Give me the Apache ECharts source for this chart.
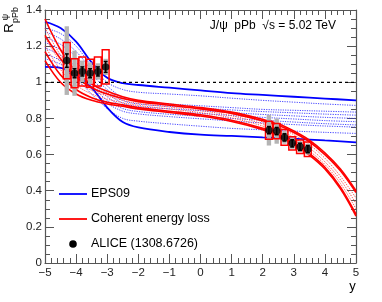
<!DOCTYPE html>
<html><head><meta charset="utf-8">
<script src="https://cdn.jsdelivr.net/npm/echarts@6/dist/echarts.min.js"></script>
<style>html,body{margin:0;padding:0;background:#fff}#c{width:382px;height:302px}</style>
</head><body><div id="c"></div>
<script>
// ---------- data ----------
const BLUE_X = [-5,-4.5,-4,-3.5,-3,-2.5,-2,-1,0,1,2,3,4,5];
const eps09Upper = [1.335,1.30,1.225,1.11,1.025,0.995,0.985,0.97,0.955,0.94,0.93,0.92,0.91,0.90];
const eps09Lower = [1.085,1.08,1.04,0.97,0.86,0.78,0.75,0.725,0.71,0.703,0.695,0.688,0.678,0.668];
const eps09Set1 = [1.30,1.27,1.20,1.09,1.00,0.96,0.945,0.935,0.925,0.912,0.90,0.89,0.88,0.872];
const eps09Set2 = [1.28,1.24,1.17,1.07,0.98,0.915,0.895,0.88,0.87,0.86,0.85,0.845,0.84,0.835];
const eps09Set3 = [1.25,1.21,1.14,1.045,0.96,0.90,0.88,0.867,0.857,0.847,0.838,0.831,0.824,0.818];
const eps09Set4 = [1.22,1.18,1.11,1.02,0.94,0.885,0.866,0.853,0.843,0.832,0.822,0.814,0.806,0.80];
const eps09Set5 = [1.19,1.15,1.085,1.00,0.92,0.87,0.852,0.838,0.828,0.816,0.806,0.797,0.788,0.782];
const eps09Set6 = [1.16,1.12,1.06,0.98,0.90,0.855,0.838,0.823,0.812,0.80,0.79,0.78,0.771,0.764];
const eps09Set7 = [1.13,1.10,1.035,0.96,0.885,0.84,0.825,0.81,0.798,0.786,0.775,0.766,0.758,0.752];
const eps09Set8 = [1.10,1.08,1.02,0.935,0.855,0.80,0.785,0.77,0.757,0.745,0.737,0.73,0.723,0.717];

const RED_X = [-5,-4.5,-4,-3.5,-3,-2.5,-2,-1,0,1,2,2.5,3,3.5,4,4.5,5];
const elossA = [1.35,1.18,1.06,0.99,0.95,0.92,0.90,0.88,0.86,0.835,0.795,0.77,0.73,0.68,0.61,0.52,0.40];
const elossB = [1.26,1.13,1.03,0.97,0.935,0.91,0.893,0.873,0.853,0.828,0.787,0.762,0.722,0.671,0.60,0.51,0.39];
const elossC = [1.17,1.04,0.96,0.915,0.89,0.875,0.86,0.84,0.82,0.79,0.745,0.71,0.665,0.605,0.53,0.42,0.27];
const elossD = [1.12,1.00,0.935,0.90,0.88,0.867,0.853,0.833,0.813,0.783,0.738,0.703,0.657,0.597,0.52,0.41,0.26];
const elossDot1 = [1.30,1.15,1.04,0.975,0.94,0.912,0.893,0.873,0.853,0.826,0.782,0.752,0.71,0.655,0.58,0.48,0.36];
const elossDot2 = [1.25,1.11,1.01,0.955,0.925,0.90,0.883,0.863,0.843,0.815,0.77,0.738,0.694,0.637,0.56,0.46,0.33];
const elossDot3 = [1.20,1.07,0.985,0.935,0.907,0.887,0.872,0.852,0.832,0.803,0.758,0.724,0.68,0.62,0.545,0.44,0.30];

const aliceY_rap = [-4.30,-4.05,-3.80,-3.55,-3.30,-3.05, 2.20,2.45,2.70,2.95,3.20,3.45];
const aliceR     = [1.12,1.05,1.06,1.05,1.06,1.085, 0.735,0.73,0.695,0.662,0.643,0.63];
const aliceStat  = [0.037,0.025,0.025,0.025,0.025,0.03, 0.02,0.02,0.02,0.02,0.02,0.02];
const aliceUncorr= [0.10,0.08,0.08,0.077,0.08,0.095, 0.05,0.042,0.044,0.037,0.037,0.04];
const aliceCorr  = [0.19,0.125,0.06,0.06,0.045,0.045, 0.085,0.07,0.035,0.03,0.03,0.03];

const refLineX = [-5, 5];
const refLineY = [1, 1];

const legendLabels = ['EPS09','Coherent energy loss','ALICE (1308.6726)'];
const titleText = 'J/\u03c8  pPb  \u221as = 5.02 TeV';

// ---------- build ----------
const FONT = '"Liberation Sans", Arial, Helvetica, sans-serif';
const pairs = (xs, ys) => xs.map((x, i) => [x, ys[i]]);
function lineSeries(xs, ys, color, width, type, z) {
  return { type:'line', data:pairs(xs, ys), smooth:0.35, symbol:'none', silent:true,
    lineStyle:{color, width, type}, z };
}
const blueDotted = [eps09Set1,eps09Set2,eps09Set3,eps09Set4,eps09Set5,eps09Set6,eps09Set7,eps09Set8];
const redSolid = [elossA,elossB,elossC,elossD];
const redDotted = [elossDot1,elossDot2,elossDot3];
const series = [];
blueDotted.forEach(s => series.push(lineSeries(BLUE_X, s, 'rgba(40,40,255,0.85)', 1, [1.2,1.2], 2)));
[eps09Upper, eps09Lower].forEach(s => series.push(lineSeries(BLUE_X, s, '#0000ff', 1.8, 'solid', 3)));
redDotted.forEach(s => series.push(lineSeries(RED_X, s, 'rgba(255,50,50,0.85)', 1, [1.2,1.2], 4)));
redSolid.forEach(s => series.push(lineSeries(RED_X, s, '#ff0000', 1.6, 'solid', 5)));
series.push({ type:'line', data:pairs(refLineX, refLineY), symbol:'none', silent:true,
  lineStyle:{color:'#000', width:1.3, type:[3,3]}, z:6 });

const errData = (e) => aliceY_rap.map((x, i) => [x, aliceR[i], e[i]]);
series.push({ type:'custom', z:7, silent:true, data:errData(aliceCorr),
  renderItem(params, api) {
    const x = api.value(0), y = api.value(1), e = api.value(2);
    const p1 = api.coord([x - 0.07, y + e]), p2 = api.coord([x + 0.07, y - e]);
    return { type:'rect', shape:{x:p1[0], y:p1[1], width:p2[0]-p1[0], height:p2[1]-p1[1]},
      style:{fill:'#b4b4b4'} };
  }});
series.push({ type:'custom', z:8, silent:true, data:errData(aliceUncorr),
  renderItem(params, api) {
    const x = api.value(0), y = api.value(1), e = api.value(2);
    const p1 = api.coord([x - 0.11, y + e]), p2 = api.coord([x + 0.11, y - e]);
    return { type:'rect', shape:{x:p1[0], y:p1[1], width:p2[0]-p1[0], height:p2[1]-p1[1]},
      style:{fill:'none', stroke:'#ff0000', lineWidth:1.5} };
  }});
series.push({ type:'custom', z:9, silent:true, data:errData(aliceStat),
  renderItem(params, api) {
    const x = api.value(0), y = api.value(1), e = api.value(2);
    const t = api.coord([x, y + e]), b = api.coord([x, y - e]);
    return { type:'group', children:[
      {type:'line', shape:{x1:t[0], y1:t[1], x2:b[0], y2:b[1]}, style:{stroke:'#000', lineWidth:1.5}},
      {type:'line', shape:{x1:t[0]-2, y1:t[1], x2:t[0]+2, y2:t[1]}, style:{stroke:'#000', lineWidth:1.5}},
      {type:'line', shape:{x1:b[0]-2, y1:b[1], x2:b[0]+2, y2:b[1]}, style:{stroke:'#000', lineWidth:1.5}}
    ]};
  }});
series.push({ type:'scatter', z:10, silent:true, data:pairs(aliceY_rap, aliceR),
  symbol:'circle', symbolSize:7.5, itemStyle:{color:'#000'} });

const axisLine = {show:true, onZero:false, lineStyle:{color:'#555', width:1.2}};
const tick = (len) => ({show:true, inside:true, length:len, lineStyle:{color:'#555', width:1}});
const minor = (n, len) => ({show:true, splitNumber:n, length:len, lineStyle:{color:'#555', width:1}});
const fmtX = v => v < 0 ? '\u2212' + (-v) : String(v);
const fmtY = v => String(Math.round(v * 10) / 10);

const option = {
  animation:false,
  grid:{left:45, right:26, top:10, bottom:39},
  xAxis:[
    {type:'value', min:-5, max:5, interval:1, position:'bottom', axisLine, axisTick:tick(9),
     minorTick:minor(5, 5), splitLine:{show:false},
     axisLabel:{fontFamily:FONT, fontSize:11.5, color:'#222', margin:4, formatter:fmtX}},
    {type:'value', min:-5, max:5, interval:1, position:'top', axisLine, axisTick:tick(9),
     minorTick:minor(5, 5), splitLine:{show:false}, axisLabel:{show:false}}
  ],
  yAxis:[
    {type:'value', min:0, max:1.4, interval:0.2, position:'left', axisLine, axisTick:tick(9),
     minorTick:minor(4, 5), splitLine:{show:false},
     axisLabel:{fontFamily:FONT, fontSize:11.5, color:'#222', margin:3, formatter:fmtY}},
    {type:'value', min:0, max:1.4, interval:0.2, position:'right', axisLine, axisTick:tick(9),
     minorTick:minor(4, 5), splitLine:{show:false}, axisLabel:{show:false}}
  ],
  series,
  graphic:[
    {type:'text', x:336, y:26, style:{text:titleText, font:'12px ' + FONT, fill:'#000', align:'right', verticalAlign:'middle'}},
    {type:'text', x:352.5, y:286, style:{text:'y', font:'13px ' + FONT, fill:'#000', align:'center', verticalAlign:'middle'}},
    {type:'text', x:9.5, y:28, rotation:Math.PI/2, style:{text:'R', font:'13px ' + FONT, fill:'#000', align:'center', verticalAlign:'middle'}},
    {type:'text', x:6, y:17, rotation:Math.PI/2, style:{text:'\u03c8', font:'9px ' + FONT, fill:'#000', align:'center', verticalAlign:'middle'}},
    {type:'text', x:15.5, y:15, rotation:Math.PI/2, style:{text:'pPb', font:'9px ' + FONT, fill:'#000', align:'center', verticalAlign:'middle'}},
    {type:'line', shape:{x1:59, y1:194, x2:87, y2:194}, style:{stroke:'#0000ff', lineWidth:1.8}},
    {type:'text', x:91, y:194, style:{text:legendLabels[0], font:'12.5px ' + FONT, fill:'#000', verticalAlign:'middle'}},
    {type:'line', shape:{x1:59, y1:219, x2:87, y2:219}, style:{stroke:'#ff0000', lineWidth:1.8}},
    {type:'text', x:91, y:219, style:{text:legendLabels[1], font:'12.5px ' + FONT, fill:'#000', verticalAlign:'middle'}},
    {type:'circle', shape:{cx:73, cy:244, r:3.8}, style:{fill:'#000'}},
    {type:'text', x:91, y:244, style:{text:legendLabels[2], font:'12.5px ' + FONT, fill:'#000', verticalAlign:'middle'}}
  ]
};
echarts.init(document.getElementById('c'), null, {renderer:'canvas'}).setOption(option);
</script></body></html>
